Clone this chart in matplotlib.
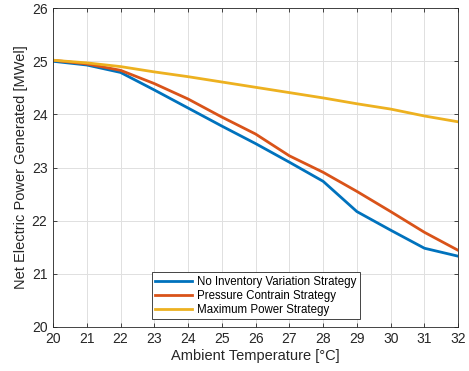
import matplotlib

matplotlib.use("Agg")
import matplotlib.pyplot as plt

plt.rcParams["font.family"] = ["Liberation Sans", "DejaVu Sans"]

# Net power vs ambient temperature for the three inventory strategies
temp_c = [20, 21, 22, 23, 24, 25, 26, 27, 28, 29, 30, 31, 32]
no_inventory = [25.00, 24.93, 24.79, 24.46, 24.12, 23.78, 23.45, 23.10, 22.74, 22.17, 21.82, 21.48, 21.33]
pressure_contrain = [25.02, 24.95, 24.83, 24.58, 24.29, 23.95, 23.63, 23.22, 22.91, 22.55, 22.17, 21.78, 21.44]
max_power = [25.02, 24.97, 24.90, 24.80, 24.71, 24.61, 24.51, 24.41, 24.31, 24.20, 24.10, 23.97, 23.86]

labels = ["No Inventory Variation Strategy", "Pressure Contrain Strategy", "Maximum Power Strategy"]
colors = ["#0072BD", "#D95319", "#EDB120"]

fig = plt.figure(figsize=(4.69, 3.71), dpi=100)
ax = fig.add_axes([0.113, 0.119, 0.864, 0.859])

for ys, lab, c in zip([no_inventory, pressure_contrain, max_power], labels, colors):
    ax.plot(temp_c, ys, color=c, linewidth=2.0, label=lab)

ax.set_xlim(20, 32)
ax.set_ylim(20, 26)
ax.set_xticks(range(20, 33))
ax.set_yticks(range(20, 27))
ax.grid(True, color="#e0e0e0", linewidth=0.7)
ax.set_axisbelow(True)
ax.tick_params(direction="in", top=True, right=True, length=3, labelsize=10,
               colors="#262626", width=0.6, pad=4)
for s in ax.spines.values():
    s.set_color("#262626")
    s.set_linewidth(0.6)

ax.set_xlabel("Ambient Temperature [°C]", fontsize=10.5, color="#262626", labelpad=2)
ax.set_ylabel("Net Electric Power Generated [MWel]", fontsize=10.5, color="#262626", labelpad=3)

leg = ax.legend(loc="lower left", bbox_to_anchor=(0.23, 0.005), fontsize=8.3,
                fancybox=False, framealpha=1, edgecolor="#262626",
                handlelength=3.2, borderpad=0.3, labelspacing=0.18, handletextpad=0.4)
leg.get_frame().set_linewidth(0.6)

fig.savefig("out.png", dpi=100)
